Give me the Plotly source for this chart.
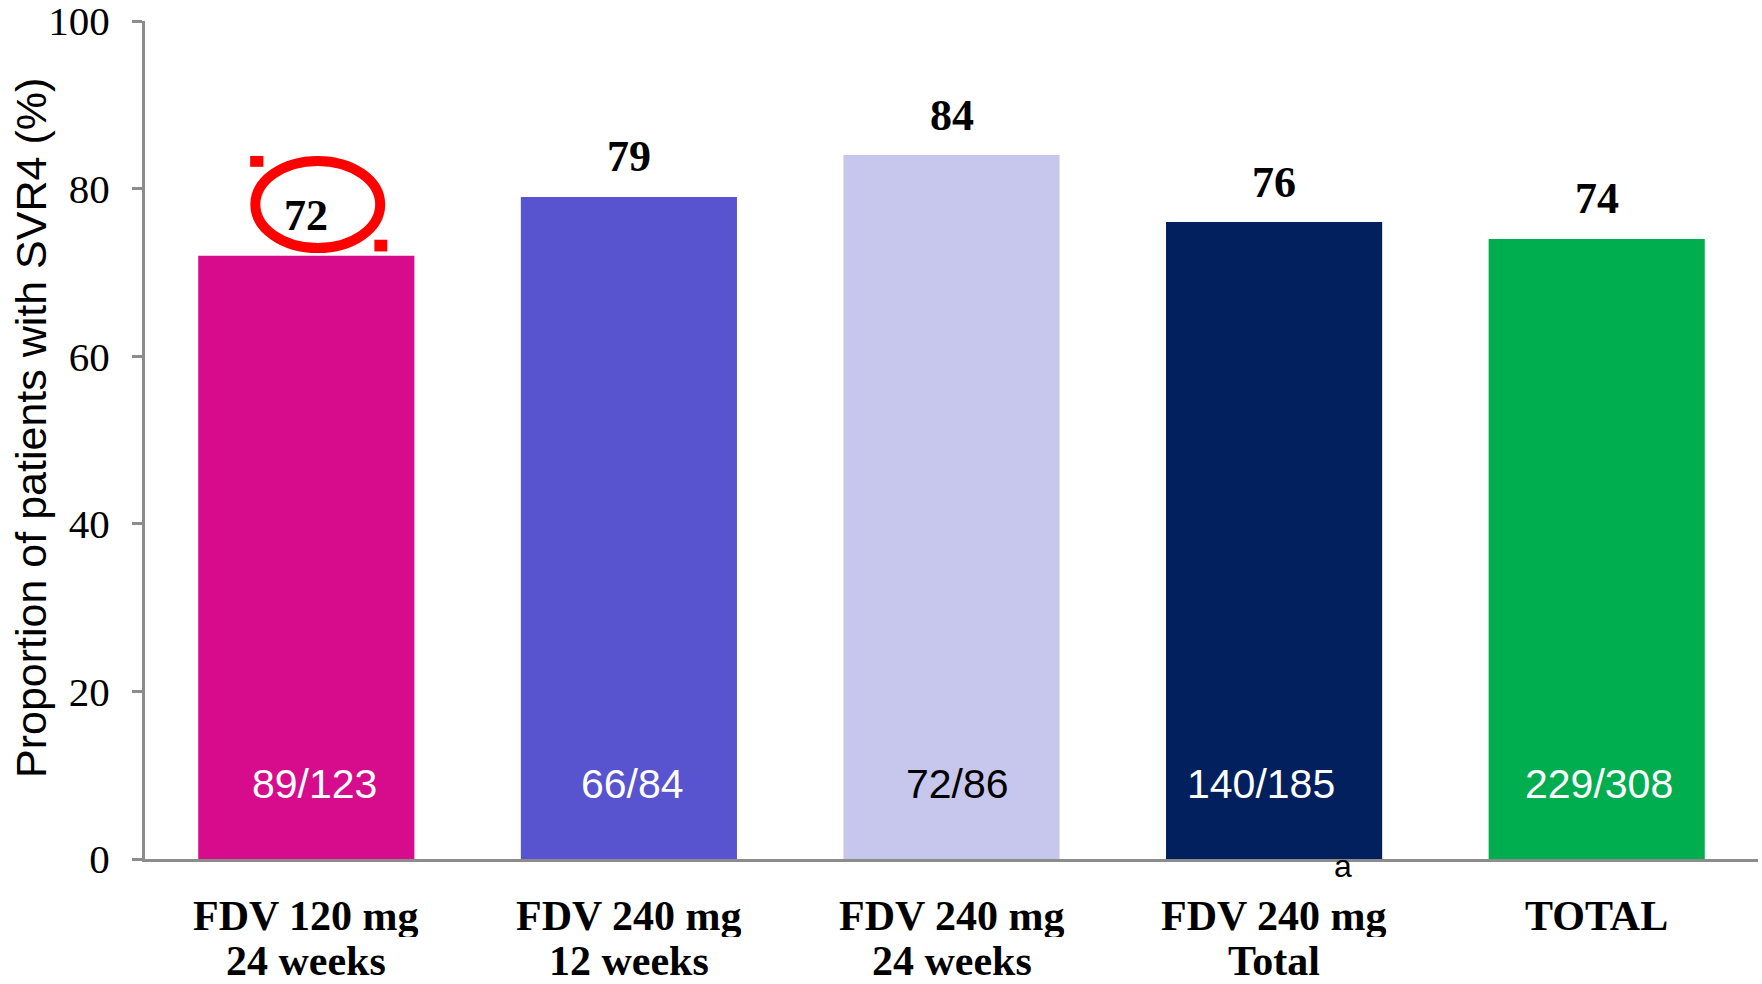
import plotly.graph_objects as go

categories = ["FDV 120 mg<br>24 weeks", "FDV 240 mg<br>12 weeks", "FDV 240 mg<br>24 weeks",
              "FDV 240 mg<br>Total", "TOTAL"]
svr4_pct = [72, 79, 84, 76, 74]
responders = ["89/123", "66/84", "72/86", "140/185", "229/308"]
y_title = "Proportion of patients with SVR4 (%)"

bar_colors = ["#D70C8C", "#5853CF", "#C7C6EC", "#021F5E", "#00AE50"]
inner_text_colors = ["white", "white", "black", "white", "white"]
inner_xshift = [8, 4, 6, -13, 2]

AXIS_GRAY = "#8C8C8C"

fig = go.Figure()
fig.add_trace(go.Bar(
    x=categories, y=svr4_pct,
    marker=dict(color=bar_colors, line=dict(width=0)),
    hoverinfo="skip", showlegend=False,
))

annotations = []
for i, (c, v, r) in enumerate(zip(categories, svr4_pct, responders)):
    annotations.append(dict(
        x=c, y=v, xref="x", yref="y", text=f"<b>{v}</b>", showarrow=False,
        yanchor="middle", yshift=40,
        font=dict(family="Liberation Serif", size=44, color="black"),
    ))
    annotations.append(dict(
        x=c, y=0, xref="x", yref="y", text=r, showarrow=False,
        yanchor="middle", yshift=75, xshift=inner_xshift[i],
        font=dict(family="Liberation Sans", size=41, color=inner_text_colors[i]),
    ))
    # category label, one line per annotation for tighter line spacing
    for k, line in enumerate(c.split("<br>")):
        annotations.append(dict(
            x=c, y=0, xref="x", yref="paper", text=f"<b>{line}</b>", showarrow=False,
            yanchor="middle", yshift=-57 - 45 * k, height=42,
            font=dict(family="Liberation Serif", size=42, color="black"),
        ))

# footnote marker under the FDV 240 mg Total bar
annotations.append(dict(
    x=categories[3], y=0, xref="x", yref="y", text="a", showarrow=False,
    yanchor="middle", xshift=69, yshift=-7,
    font=dict(family="Liberation Sans", size=32, color="black"),
))

# y-axis title
annotations.append(dict(
    x=0, y=0.5, xref="paper", yref="paper", text=y_title, showarrow=False,
    textangle=-90, xanchor="center", yanchor="middle", xshift=-114, yshift=12,
    font=dict(family="Liberation Sans", size=43, color="black"),
))

# red highlight ellipse around the first value label, with selection handles
v0 = svr4_pct[0]
shapes = [
    dict(type="circle", xref="x", yref="y", x0=-0.158, x1=0.229, y0=v0 + 0.9, y1=v0 + 11.3,
         line=dict(color="#FF0000", width=10), fillcolor="rgba(0,0,0,0)"),
    dict(type="rect", xref="x", yref="y", x0=-0.174, x1=-0.133, y0=v0 + 10.6, y1=v0 + 11.9,
         line=dict(width=0), fillcolor="#FF0000"),
    dict(type="rect", xref="x", yref="y", x0=0.211, x1=0.251, y0=v0 + 0.5, y1=v0 + 1.9,
         line=dict(width=0), fillcolor="#FF0000"),
]

fig.update_layout(
    width=1762, height=984,
    margin=dict(l=145, r=4, t=21, b=125, pad=0, autoexpand=False),
    paper_bgcolor="white", plot_bgcolor="white",
    bargap=0.33,
    annotations=annotations,
    shapes=shapes,
    xaxis=dict(
        type="category", range=[-0.5, 4.5],
        showline=True, linecolor=AXIS_GRAY, linewidth=3,
        ticks="", showticklabels=False, automargin=False,
        showgrid=False, zeroline=False,
    ),
    yaxis=dict(
        range=[0, 100], tickvals=[0, 20, 40, 60, 80, 100],
        showline=True, linecolor=AXIS_GRAY, linewidth=3,
        ticks="outside", ticklen=10, tickwidth=3, tickcolor=AXIS_GRAY,
        ticklabelstandoff=14, ticklabeloverflow="allow", automargin=False,
        showgrid=False, zeroline=False,
        tickfont=dict(family="Liberation Serif", size=41, color="black"),
    ),
)

fig.write_html("out.html", config={"displayModeBar": False},
               post_script="document.body.style.margin='0';document.body.style.overflow='hidden';")
